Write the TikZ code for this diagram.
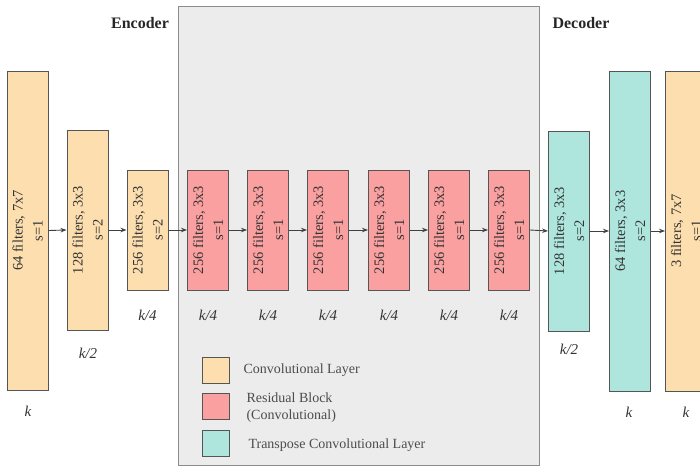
\documentclass[tikz,border=0pt]{standalone}
\usepackage{fontspec}
\setmainfont{Liberation Serif}
\usetikzlibrary{arrows.meta}
\definecolor{convc}{HTML}{FDDFAF}
\definecolor{resc}{HTML}{FBA0A0}
\definecolor{tconvc}{HTML}{AEE6DE}
\definecolor{panelc}{HTML}{ECECEC}
\definecolor{edgec}{HTML}{555555}
\definecolor{txtc}{HTML}{333333}
\tikzset{
  layer/.style={draw=edgec, line width=1pt, rotate=90, minimum height=41pt,
    inner sep=0pt, align=center, text=txtc, font=\fontsize{14.5}{20}\selectfont},
  conv/.style={layer, fill=convc},
  res/.style={layer, fill=resc},
  tconv/.style={layer, fill=tconvc},
  dimlab/.style={text=txtc, font=\fontsize{15}{18}\selectfont\itshape},
  head/.style={text=black!85, font=\fontsize{16}{18}\selectfont\bfseries},
  legbox/.style={draw=edgec, line width=1pt, minimum width=27pt, minimum height=26pt, inner sep=0pt},
  legtxt/.style={anchor=west, text=black!70, align=left, font=\fontsize{14}{17}\selectfont},
  conn/.style={draw=black!75, line width=0.9pt, -{Stealth[length=6pt,width=4.5pt]}},
}
\begin{document}
\begin{tikzpicture}[x=1pt,y=-1pt]
\useasboundingbox (0,0) rectangle (700,466);
\clip (0,0) rectangle (700,466);
% panel
\draw[draw=black!45, fill=panelc, line width=0.9pt] (178,6) rectangle (539,465);
\node[head] (enc) at (140,23) {Encoder};
\node[head] (dec) at (581,23) {Decoder};
% layers
\node[conv, minimum width=319pt] (c1) at (27.5,230.5) {64 filters, 7x7\\s=1};
\node[conv, minimum width=200pt] (c2) at (87.5,230) {128 filters, 3x3\\s=2};
\node[conv, minimum width=120pt] (c3) at (147.5,230) {256 filters, 3x3\\s=2};
\node[res, minimum width=120pt] (r1) at (208,230) {256 filters, 3x3\\s=1};
\node[res, minimum width=120pt] (r2) at (268,230) {256 filters, 3x3\\s=1};
\node[res, minimum width=120pt] (r3) at (328,230) {256 filters, 3x3\\s=1};
\node[res, minimum width=120pt] (r4) at (389,230) {256 filters, 3x3\\s=1};
\node[res, minimum width=120pt] (r5) at (449,230) {256 filters, 3x3\\s=1};
\node[res, minimum width=120pt] (r6) at (509,230) {256 filters, 3x3\\s=1};
\node[tconv, minimum width=200pt] (t1) at (569,231) {128 filters, 3x3\\s=2};
\node[tconv, minimum width=320pt] (t2) at (630,231) {64 filters, 3x3\\s=2};
\node[conv, minimum width=320pt] (c4) at (686,231) {3 filters, 7x7\\s=1};
% connectors (rotated nodes: south = right side, north = left side)
\draw[conn] (c1.south) -- (c2.north);
\draw[conn] (c2.south) -- (c3.north);
\draw[conn] (c3.south) -- (r1.north);
\draw[conn] (r1.south) -- (r2.north);
\draw[conn] (r2.south) -- (r3.north);
\draw[conn] (r3.south) -- (r4.north);
\draw[conn] (r4.south) -- (r5.north);
\draw[conn] (r5.south) -- (r6.north);
\draw[conn] (r6.south) -- (t1.north);
\draw[conn] (t1.south) -- (t2.north);
\draw[conn] (t2.south) -- (c4.north);
% dimension labels
\node[dimlab] (k1) at (28,411) {k};
\node[dimlab] (k2) at (88,353) {k/2};
\node[dimlab] (k3) at (147.5,315) {k/4};
\node[dimlab] (k4) at (208,315) {k/4};
\node[dimlab] (k5) at (268,315) {k/4};
\node[dimlab] (k6) at (328,315) {k/4};
\node[dimlab] (k7) at (389,315) {k/4};
\node[dimlab] (k8) at (449,315) {k/4};
\node[dimlab] (k9) at (509,315) {k/4};
\node[dimlab] (k10) at (569,349) {k/2};
\node[dimlab] (k11) at (629,412) {k};
\node[dimlab] (k12) at (686,412) {k};
% legend
\node[legbox, fill=convc] (l1) at (215.5,370) {};
\node[legbox, fill=resc] (l2) at (215.5,406) {};
\node[legbox, fill=tconvc] (l3) at (215.5,443) {};
\node[legtxt] (lt1) at (240,370) {Convolutional Layer};
\node[legtxt] (lt2) at (243,408) {Residual Block\\(Convolutional)};
\node[legtxt] (lt3) at (245,445) {Transpose Convolutional Layer};
\end{tikzpicture}
\end{document}
